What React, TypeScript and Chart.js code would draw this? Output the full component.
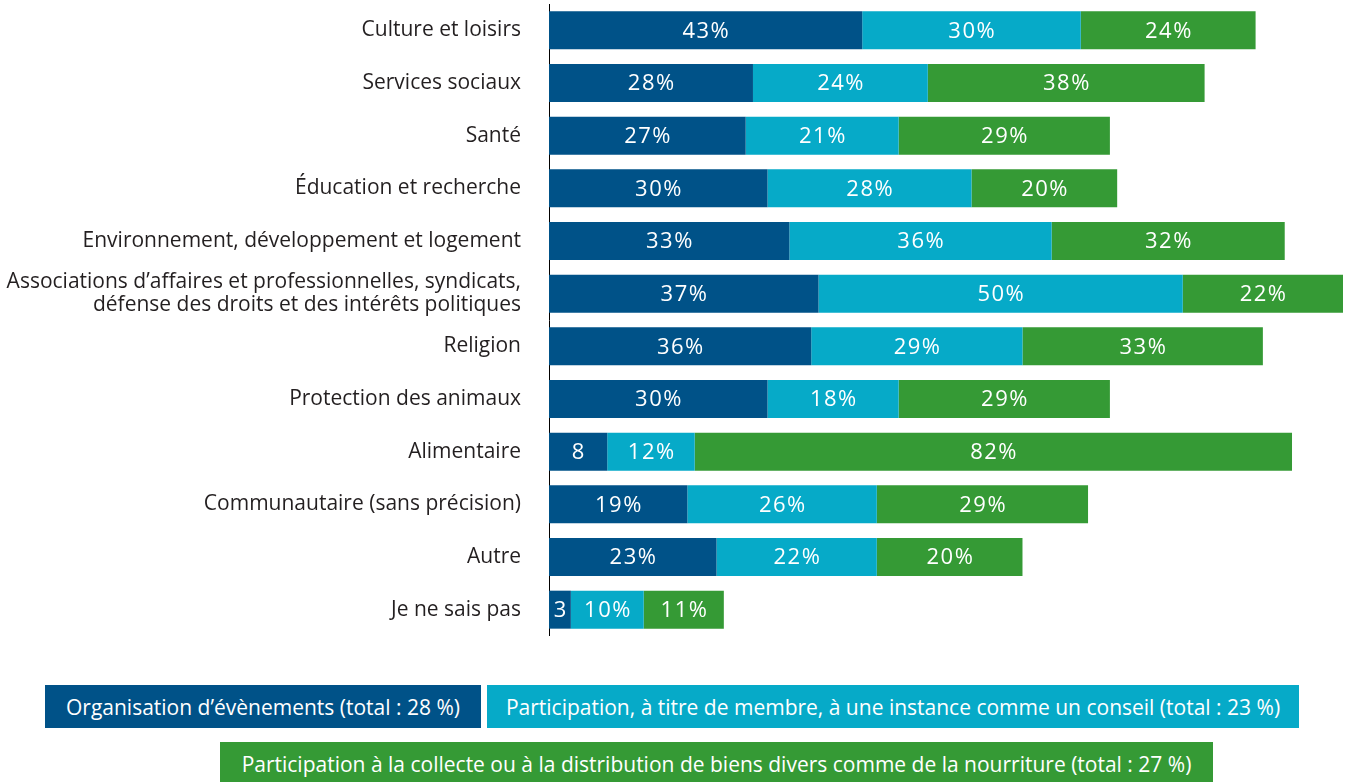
import React, { useEffect, useRef } from "react";
import { Chart, registerables } from "chart.js";

Chart.register(...registerables);

const categories: (string | string[])[] = [
  "Culture et loisirs",
  "Services sociaux",
  "Santé",
  "Éducation et recherche",
  "Environnement, développement et logement",
  ["Associations d’affaires et professionnelles, syndicats,", "défense des droits et des intérêts politiques"],
  "Religion",
  "Protection des animaux",
  "Alimentaire",
  "Communautaire (sans précision)",
  "Autre",
  "Je ne sais pas",
];

const organisation = [43, 28, 27, 30, 33, 37, 36, 30, 8, 19, 23, 3];
const participationInstance = [30, 24, 21, 28, 36, 50, 29, 18, 12, 26, 22, 10];
const collecte = [24, 38, 29, 20, 32, 22, 33, 29, 82, 29, 20, 11];

const seriesNames = [
  "Organisation d’évènements (total : 28 %)",
  "Participation, à titre de membre, à une instance comme un conseil (total : 23 %)",
  "Participation à la collecte ou à la distribution de biens divers comme de la nourriture (total : 27 %)",
];

const DARK = "#005288";
const CYAN = "#06aac8";
const GREEN = "#359a35";
const FONT = "'Open Sans', Lato, sans-serif";

const valueLabels = {
  id: "valueLabels",
  afterDatasetsDraw(chart: any) {
    const ctx = chart.ctx;
    ctx.save();
    ctx.fillStyle = "#ffffff";
    ctx.font = `22px ${FONT}`;
    const ls = 1.5;
    try {
      ctx.letterSpacing = `${ls}px`;
    } catch (e) {}
    ctx.textAlign = "center";
    ctx.textBaseline = "middle";
    chart.data.datasets.forEach((ds: any, di: number) => {
      const meta = chart.getDatasetMeta(di);
      meta.data.forEach((bar: any, i: number) => {
        const v = ds.data[i];
        const txt = v < 10 ? `${v}` : `${v}%`;
        const cx = (bar.x + bar.base) / 2 + ls / 2;
        ctx.fillText(txt, cx, bar.y + 1);
      });
    });
    ctx.restore();
  },
};

export default function App() {
  const ref = useRef<HTMLCanvasElement | null>(null);

  useEffect(() => {
    if (!ref.current) return;
    const chart = new Chart(ref.current, {
      type: "bar",
      data: {
        labels: categories,
        datasets: [
          { label: seriesNames[0], data: organisation, backgroundColor: DARK },
          { label: seriesNames[1], data: participationInstance, backgroundColor: CYAN },
          { label: seriesNames[2], data: collecte, backgroundColor: GREEN },
        ],
      },
      options: {
        indexAxis: "y",
        animation: false,
        responsive: false,
        maintainAspectRatio: false,
        layout: { padding: { top: 4, right: 4, bottom: 0, left: 0 } },
        datasets: {
          bar: { categoryPercentage: 1, barPercentage: 0.7215, borderWidth: 0 },
        },
        plugins: {
          legend: { display: false },
          tooltip: { enabled: false },
        },
        scales: {
          x: {
            stacked: true,
            min: 0,
            max: 109,
            display: false,
          },
          y: {
            stacked: true,
            grid: { display: false, drawTicks: false },
            border: { display: true, color: "#000000", width: 1 },
            ticks: {
              color: "#231f20",
              font: { family: FONT, size: 21, lineHeight: 1.1 },
              padding: 28,
              crossAlign: "near",
            },
            afterFit(scale: any) {
              scale.width = 549;
              scale.paddingTop = 0;
              scale.paddingBottom = 0;
            },
          },
        },
      },
      plugins: [valueLabels],
    });
    return () => chart.destroy();
  }, []);

  const boxStyle = (left: number, top: number, width: number, height: number, bg: string): React.CSSProperties => ({
    position: "absolute",
    left,
    top,
    width,
    height,
    background: bg,
    color: "#ffffff",
    fontFamily: FONT,
    fontSize: 21,
    display: "flex",
    alignItems: "center",
    justifyContent: "center",
    whiteSpace: "nowrap",
  });

  return (
    <div style={{ position: "fixed", left: 0, top: 0, width: 1347, height: 782, overflow: "hidden", background: "#ffffff" }}>
      <canvas ref={ref} width={1347} height={636} style={{ position: "absolute", left: 0, top: 0, width: 1347, height: 636 }} />
      <div style={boxStyle(45, 685, 436, 43, DARK)}>{seriesNames[0]}</div>
      <div style={boxStyle(487, 685, 812, 43, CYAN)}>{seriesNames[1]}</div>
      <div style={boxStyle(220, 742, 993, 50, GREEN)}>
        <span style={{ position: "relative", top: -3 }}>{seriesNames[2]}</span>
      </div>
    </div>
  );
}
